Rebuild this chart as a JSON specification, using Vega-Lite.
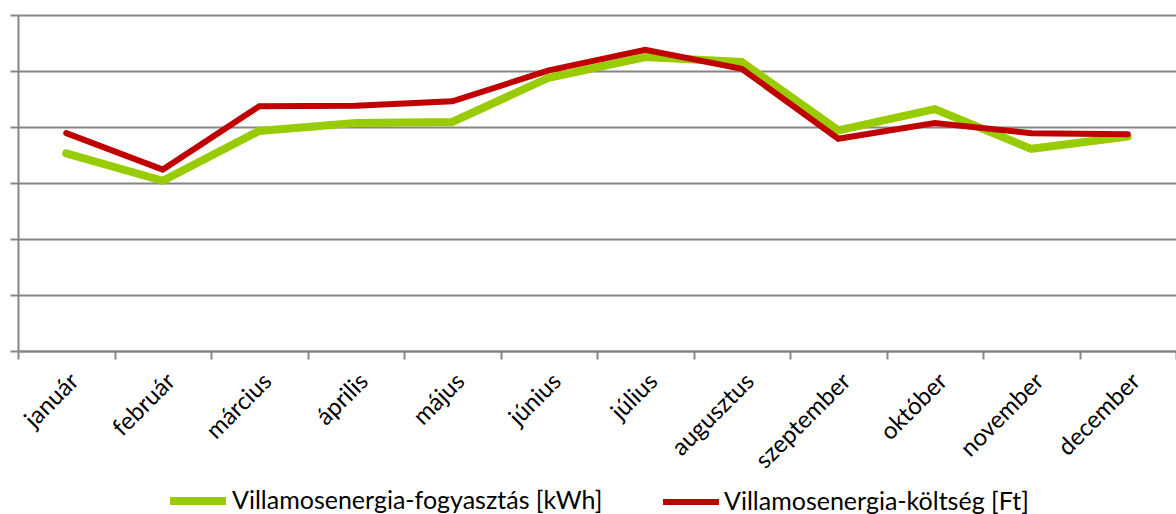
{
  "$schema": "https://vega.github.io/schema/vega-lite/v6.json",
  "width": 1158,
  "height": 336,
  "autosize": "none",
  "padding": {"left": 18, "top": 15, "right": 0, "bottom": 163},
  "background": "white",
  "config": {
    "view": {"stroke": null},
    "font": "Lato"
  },
  "data": {
    "values": [
      {"honap": "január", "sorozat": "Villamosenergia-fogyasztás [kWh]", "ertek": 3.53},
      {"honap": "február", "sorozat": "Villamosenergia-fogyasztás [kWh]", "ertek": 3.04},
      {"honap": "március", "sorozat": "Villamosenergia-fogyasztás [kWh]", "ertek": 3.93},
      {"honap": "április", "sorozat": "Villamosenergia-fogyasztás [kWh]", "ertek": 4.07},
      {"honap": "május", "sorozat": "Villamosenergia-fogyasztás [kWh]", "ertek": 4.09},
      {"honap": "június", "sorozat": "Villamosenergia-fogyasztás [kWh]", "ertek": 4.88},
      {"honap": "július", "sorozat": "Villamosenergia-fogyasztás [kWh]", "ertek": 5.25},
      {"honap": "augusztus", "sorozat": "Villamosenergia-fogyasztás [kWh]", "ertek": 5.16},
      {"honap": "szeptember", "sorozat": "Villamosenergia-fogyasztás [kWh]", "ertek": 3.94},
      {"honap": "október", "sorozat": "Villamosenergia-fogyasztás [kWh]", "ertek": 4.32},
      {"honap": "november", "sorozat": "Villamosenergia-fogyasztás [kWh]", "ertek": 3.61},
      {"honap": "december", "sorozat": "Villamosenergia-fogyasztás [kWh]", "ertek": 3.83},
      {"honap": "január", "sorozat": "Villamosenergia-költség [Ft]", "ertek": 3.89},
      {"honap": "február", "sorozat": "Villamosenergia-költség [Ft]", "ertek": 3.24},
      {"honap": "március", "sorozat": "Villamosenergia-költség [Ft]", "ertek": 4.37},
      {"honap": "április", "sorozat": "Villamosenergia-költség [Ft]", "ertek": 4.38},
      {"honap": "május", "sorozat": "Villamosenergia-költség [Ft]", "ertek": 4.46},
      {"honap": "június", "sorozat": "Villamosenergia-költség [Ft]", "ertek": 5.01},
      {"honap": "július", "sorozat": "Villamosenergia-költség [Ft]", "ertek": 5.38},
      {"honap": "augusztus", "sorozat": "Villamosenergia-költség [Ft]", "ertek": 5.04},
      {"honap": "szeptember", "sorozat": "Villamosenergia-költség [Ft]", "ertek": 3.79},
      {"honap": "október", "sorozat": "Villamosenergia-költség [Ft]", "ertek": 4.07},
      {"honap": "november", "sorozat": "Villamosenergia-költség [Ft]", "ertek": 3.89},
      {"honap": "december", "sorozat": "Villamosenergia-költség [Ft]", "ertek": 3.87}
    ]
  },
  "mark": {"type": "line", "strokeCap": "round", "strokeJoin": "miter"},
  "encoding": {
    "x": {
      "field": "honap",
      "type": "nominal",
      "sort": ["január", "február", "március", "április", "május", "június", "július", "augusztus", "szeptember", "október", "november", "december"],
      "scale": {"type": "band", "paddingInner": 0, "paddingOuter": 0},
      "axis": {
        "title": null,
        "tickBand": "extent",
        "labelAngle": -45,
        "labelFontSize": 24,
        "labelColor": "#000000",
        "labelPadding": 10,
        "tickSize": 8,
        "tickColor": "#868686",
        "tickWidth": 2,
        "domainColor": "#868686",
        "domainWidth": 2,
        "grid": false
      }
    },
    "y": {
      "field": "ertek",
      "type": "quantitative",
      "scale": {"domain": [0, 6], "nice": false, "zero": true},
      "axis": {
        "title": null,
        "values": [0, 1, 2, 3, 4, 5, 6],
        "labels": false,
        "tickSize": 8,
        "tickColor": "#868686",
        "tickWidth": 2,
        "domainColor": "#868686",
        "domainWidth": 2,
        "grid": true,
        "gridColor": "#868686",
        "gridWidth": 2,
        "gridOpacity": 1
      }
    },
    "color": {
      "field": "sorozat",
      "type": "nominal",
      "scale": {"domain": ["Villamosenergia-fogyasztás [kWh]", "Villamosenergia-költség [Ft]"], "range": ["#99CC00", "#C00000"]},
      "legend": {
        "title": null,
        "orient": "none",
        "legendX": 148,
        "legendY": 454,
        "direction": "horizontal",
        "symbolType": "stroke",
        "symbolSize": 3136,
        "symbolStrokeWidth": 8,
        "labelFontSize": 25,
        "labelColor": "#000000",
        "labelOffset": 2,
        "columnPadding": 48,
        "labelLimit": 500
      }
    },
    "strokeWidth": {
      "field": "sorozat",
      "type": "nominal",
      "scale": {"domain": ["Villamosenergia-fogyasztás [kWh]", "Villamosenergia-költség [Ft]"], "range": [8, 6]},
      "legend": null
    }
  }
}
